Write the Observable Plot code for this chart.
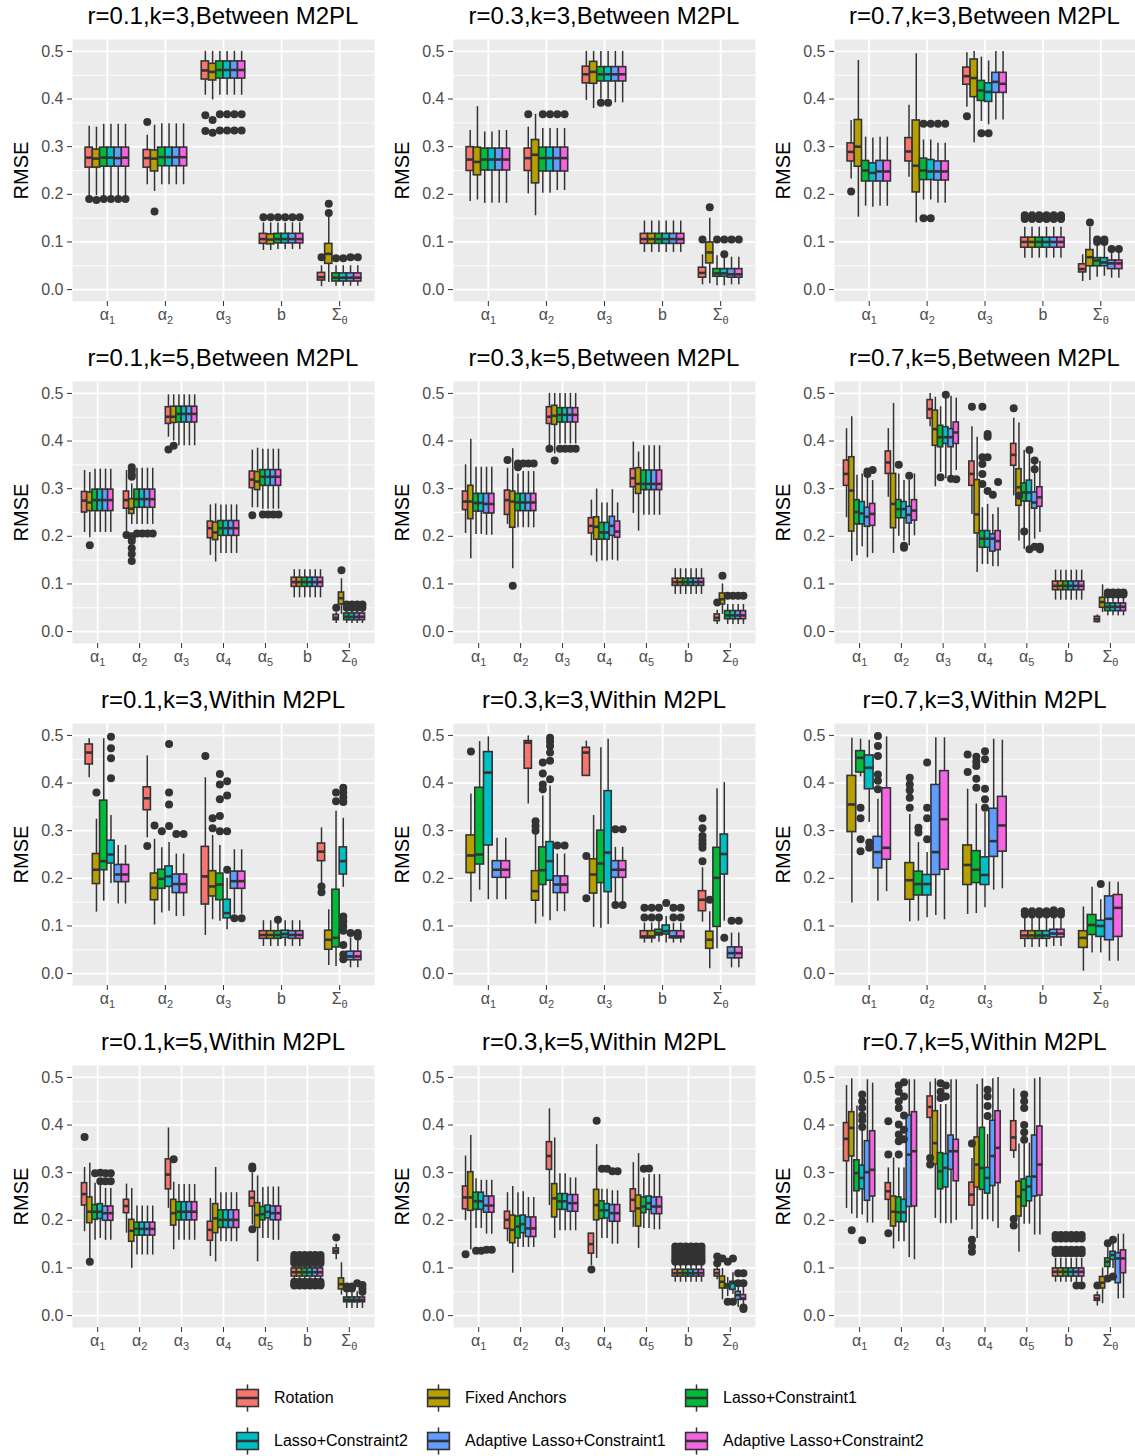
<!DOCTYPE html>
<html>
<head>
<meta charset="utf-8">
<script src="https://cdn.jsdelivr.net/npm/d3@7"></script>
<script src="https://cdn.jsdelivr.net/npm/@observablehq/plot@0.6"></script>
<style>
  body { margin: 0; background: #fff; font-family: "Liberation Sans", Arial, Helvetica, sans-serif; }
  #wrap { position: relative; width: 1135px; height: 1456px; overflow: hidden; }
  .panel { position: absolute; }
  .ptitle { height: 32px; line-height: 32px; font-size: 24px; text-align: center; color: #000; white-space: nowrap; box-sizing: border-box; }
  .panel svg { display: block; }
  .item { position: absolute; display: flex; align-items: center; font-size: 16px; color: #000; white-space: nowrap; }
  .item svg { margin-right: 12px; }
</style>
</head>
<body>
<div id="wrap"></div>
<script>
// Estimation methods and their fill colours
const methods = ["Rotation", "Fixed Anchors", "Lasso+Constraint1", "Lasso+Constraint2", "Adaptive Lasso+Constraint1", "Adaptive Lasso+Constraint2"];
const colors = ["#F8766D", "#B79F00", "#00BA38", "#00BFC4", "#619CFF", "#F564E3"];

// Parameter groups on the x axis
const paramsK3 = ["α1", "α2", "α3", "b", "Σθ"];
const paramsK5 = ["α1", "α2", "α3", "α4", "α5", "b", "Σθ"];

// RMSE axis ticks
const yTicks = [0, 0.1, 0.2, 0.3, 0.4, 0.5];
const yMinor = [0.05, 0.15, 0.25, 0.35, 0.45];

// Each row: parameter, then one box per method (null when absent):
// [lower whisker, Q1, median, Q3, upper whisker, [outliers]]
const b01k3 = [
  ["α1", [.197,.256,.277,.298,.343,[.19]], [.197,.256,.275,.294,.341,[.188]], [.197,.258,.277,.298,.347,[.19]], [.197,.258,.277,.298,.347,[.19]], [.197,.258,.276,.298,.347,[.19]], [.197,.258,.277,.298,.347,[.19]]],
  ["α2", [.22,.256,.276,.293,.324,[.352]], [.206,.248,.275,.292,.345,[.164]], [.22,.259,.278,.298,.348,[]], [.22,.259,.278,.298,.348,[]], [.22,.259,.278,.298,.348,[]], [.22,.259,.278,.298,.348,[]]],
  ["α3", [.408,.441,.46,.479,.5,[.366,.333]], [.398,.439,.457,.474,.5,[.356,.329]], [.408,.443,.461,.479,.5,[.368,.334]], [.408,.443,.461,.479,.5,[.368,.334]], [.408,.443,.461,.479,.5,[.368,.334]], [.408,.443,.461,.479,.5,[.368,.334]]],
  ["b", [.082,.096,.106,.117,.14,[.152]], [.082,.095,.105,.116,.14,[.152]], [.084,.097,.106,.117,.14,[.152]], [.084,.097,.106,.117,.14,[.152]], [.084,.097,.106,.117,.14,[.152]], [.084,.097,.106,.117,.14,[.152]]],
  ["Σθ", [.006,.019,.026,.035,.05,[.068]], [.015,.054,.075,.096,.152,[.18,.161]], [.007,.017,.025,.034,.05,[.066]], [.007,.017,.025,.034,.05,[.066]], [.007,.017,.025,.034,.05,[.068]], [.007,.017,.025,.034,.05,[.068]]]
];

const b03k3 = [
  ["α1", [.185,.249,.273,.299,.334,[]], [.188,.24,.268,.298,.384,[]], [.181,.25,.273,.296,.331,[]], [.181,.25,.273,.296,.331,[]], [.181,.25,.273,.296,.334,[]], [.181,.25,.273,.296,.334,[]]],
  ["α2", [.201,.249,.276,.296,.341,[.368]], [.155,.223,.283,.314,.368,[]], [.202,.248,.276,.298,.338,[.368]], [.202,.248,.276,.298,.338,[.368]], [.208,.248,.276,.298,.338,[.368]], [.208,.248,.276,.298,.338,[.368]]],
  ["α3", [.397,.433,.452,.468,.5,[]], [.38,.432,.457,.478,.5,[]], [.40,.437,.452,.467,.5,[.392]], [.40,.437,.452,.467,.5,[.392]], [.392,.437,.452,.467,.5,[]], [.392,.437,.452,.467,.5,[]]],
  ["b", [.078,.096,.106,.117,.144,[]], [.078,.096,.106,.117,.144,[]], [.078,.096,.106,.117,.144,[]], [.078,.096,.106,.117,.144,[]], [.078,.096,.106,.117,.144,[]], [.078,.096,.106,.117,.144,[]]],
  ["Σθ", [.01,.025,.035,.046,.073,[.105]], [.012,.055,.078,.099,.15,[.173]], [.008,.027,.034,.043,.071,[.105]], [.008,.027,.034,.043,.071,[.105,.074]], [.01,.025,.032,.043,.068,[.105]], [.01,.025,.032,.043,.068,[.105]]]
];

const b07k3 = [
  ["α1", [.232,.269,.289,.307,.355,[.206]], [.152,.258,.30,.356,.481,[]], [.175,.227,.25,.27,.32,[]], [.173,.227,.245,.265,.318,[]], [.175,.227,.248,.27,.32,[]], [.175,.227,.248,.27,.32,[]]],
  ["α2", [.236,.269,.29,.318,.387,[]], [.14,.204,.26,.355,.495,[]], [.188,.23,.25,.275,.314,[.348,.15]], [.188,.23,.248,.272,.314,[.348,.15]], [.181,.229,.248,.269,.307,[.348]], [.181,.229,.248,.269,.307,[.348]]],
  ["α3", [.383,.43,.448,.466,.497,[.364]], [.308,.404,.444,.483,.5,[]], [.353,.396,.418,.438,.488,[.328]], [.346,.394,.415,.433,.48,[.328]], [.356,.413,.436,.455,.5,[]], [.356,.413,.432,.455,.5,[]]],
  ["b", [.066,.088,.10,.109,.131,[.148,.152,.156]], [.066,.088,.10,.109,.131,[.148,.152,.156]], [.066,.088,.10,.109,.131,[.148,.152,.156]], [.066,.088,.10,.109,.131,[.148,.152,.156]], [.066,.088,.10,.109,.131,[.148,.152,.156]], [.066,.088,.10,.109,.131,[.148,.152,.156]]],
  ["Σθ", [.017,.036,.043,.053,.073,[]], [.019,.049,.068,.083,.131,[.141]], [.026,.049,.061,.066,.092,[.1,.105]], [.028,.049,.057,.066,.092,[.1,.105]], [.024,.043,.055,.061,.08,[.085]], [.024,.043,.055,.061,.08,[.085]]]
];

const b01k5 = [
  ["α1", [.208,.25,.275,.293,.338,[]], [.197,.253,.271,.292,.334,[.181]], [.208,.253,.276,.298,.341,[]], [.208,.253,.276,.298,.341,[]], [.208,.253,.276,.298,.341,[]], [.208,.253,.276,.298,.341,[]]],
  ["α2", [.21,.258,.276,.294,.338,[.203]], [.225,.247,.258,.278,.31,[.345,.338,.33,.325,.2,.197,.19,.175,.163,.148]], [.225,.26,.278,.298,.343,[.206]], [.225,.26,.278,.298,.343,[.206]], [.225,.26,.278,.298,.343,[.206]], [.225,.26,.278,.298,.343,[.206]]],
  ["α3", [.408,.436,.451,.471,.497,[.382]], [.40,.438,.451,.472,.497,[.39]], [.39,.439,.457,.472,.497,[]], [.39,.439,.457,.472,.497,[]], [.39,.439,.457,.472,.497,[]], [.39,.439,.457,.472,.497,[]]],
  ["α4", [.16,.196,.217,.231,.266,[]], [.146,.192,.208,.229,.268,[]], [.164,.201,.217,.232,.266,[]], [.164,.201,.217,.232,.266,[]], [.164,.201,.217,.232,.266,[]], [.164,.201,.217,.232,.266,[]]],
  ["α5", [.26,.301,.319,.336,.381,[.244]], [.26,.297,.315,.335,.385,[]], [.257,.306,.325,.339,.383,[.246]], [.257,.306,.325,.339,.383,[.246]], [.257,.306,.325,.339,.383,[.246]], [.257,.306,.325,.339,.383,[.246]]],
  ["b", [.071,.094,.104,.113,.13,[]], [.071,.094,.104,.113,.13,[]], [.071,.094,.104,.113,.13,[]], [.071,.094,.104,.113,.13,[]], [.071,.094,.104,.113,.13,[]], [.071,.094,.104,.113,.13,[]]],
  ["Σθ", [.017,.024,.029,.035,.04,[.05]], [.036,.057,.07,.082,.111,[.129]], [.017,.024,.031,.038,.048,[.057,.05]], [.017,.024,.031,.038,.048,[.057,.05]], [.017,.024,.031,.038,.048,[.057,.05]], [.017,.024,.031,.038,.048,[.057,.05]]]
];

const b03k5 = [
  ["α1", [.206,.255,.273,.294,.35,[]], [.153,.236,.273,.306,.404,[]], [.204,.252,.27,.289,.345,[]], [.204,.252,.27,.289,.345,[]], [.202,.248,.268,.289,.345,[]], [.202,.248,.268,.289,.345,[]]],
  ["α2", [.225,.245,.276,.296,.343,[.36]], [.132,.218,.273,.294,.384,[.096]], [.218,.253,.271,.289,.331,[.353,.345]], [.218,.253,.271,.289,.336,[.353]], [.218,.253,.271,.289,.336,[.353]], [.218,.253,.271,.289,.336,[.353]]],
  ["α3", [.387,.436,.451,.471,.5,[.384]], [.373,.434,.453,.474,.5,[.359]], [.394,.439,.455,.469,.5,[.384]], [.394,.439,.455,.469,.5,[.384]], [.394,.439,.455,.469,.5,[.384]], [.394,.439,.455,.469,.5,[.384]]],
  ["α4", [.159,.206,.222,.238,.276,[]], [.146,.193,.22,.24,.299,[]], [.148,.193,.208,.228,.27,[]], [.148,.193,.208,.228,.27,[]], [.15,.201,.222,.241,.298,[]], [.148,.197,.21,.231,.27,[]]],
  ["α5", [.248,.303,.322,.341,.398,[]], [.211,.289,.31,.343,.377,[]], [.244,.297,.31,.338,.39,[]], [.244,.297,.31,.338,.39,[]], [.244,.297,.31,.338,.39,[]], [.244,.297,.31,.338,.39,[]]],
  ["b", [.078,.096,.104,.111,.132,[]], [.078,.096,.104,.111,.132,[]], [.078,.096,.104,.111,.132,[]], [.078,.096,.104,.111,.132,[]], [.078,.096,.104,.111,.132,[]], [.078,.096,.104,.111,.132,[]]],
  ["Σθ", [.015,.022,.029,.036,.045,[.061]], [.036,.057,.068,.08,.1,[.117]], [.015,.026,.034,.043,.057,[.075]], [.015,.026,.034,.043,.057,[.075]], [.015,.026,.034,.043,.057,[.075]], [.015,.026,.034,.043,.057,[.075]]]
];

const b07k5 = [
  ["α1", [.239,.306,.331,.359,.426,[]], [.147,.21,.296,.366,.451,[]], [.159,.225,.251,.276,.328,[]], [.178,.225,.248,.272,.331,[]], [.155,.22,.241,.26,.325,[.331,.336]], [.164,.222,.247,.268,.317,[.339]]],
  ["α2", [.282,.331,.355,.378,.426,[]], [.164,.217,.268,.331,.479,[]], [.20,.238,.257,.276,.331,[.35]], [.19,.238,.257,.272,.317,[.18,.176]], [.18,.227,.245,.262,.317,[.327]], [.201,.233,.254,.276,.331,[]]],
  ["α3", [.43,.447,.467,.486,.5,[]], [.304,.39,.425,.464,.492,[]], [.334,.387,.408,.432,.472,[.324]], [.321,.394,.408,.429,.492,[.497]], [.32,.387,.408,.425,.494,[.321]], [.338,.394,.418,.439,.49,[.32]]],
  ["α4", [.246,.306,.331,.357,.43,[.472]], [.124,.206,.246,.318,.408,[]], [.141,.176,.195,.211,.26,[.472,.366,.352,.331,.31]], [.141,.176,.195,.211,.267,[.415,.409,.366,.295]], [.136,.168,.195,.204,.246,[.287]], [.136,.171,.19,.211,.26,[.314]]],
  ["α5", [.285,.348,.371,.394,.448,[.469]], [.19,.264,.303,.341,.438,[.285]], [.173,.273,.292,.311,.38,[.21]], [.173,.273,.292,.317,.373,[.381,.173]], [.194,.258,.271,.292,.352,[.359,.341,.178]], [.208,.262,.282,.303,.357,[.173,.178]]],
  ["b", [.066,.087,.096,.105,.129,[]], [.066,.087,.096,.105,.129,[]], [.066,.087,.096,.105,.129,[]], [.066,.087,.096,.105,.129,[]], [.066,.087,.096,.105,.129,[]], [.066,.087,.096,.105,.129,[]]],
  ["Σθ", [.018,.02,.026,.031,.035,[]], [.04,.05,.062,.071,.098,[]], [.033,.043,.052,.059,.075,[.082,.078]], [.033,.043,.052,.059,.075,[.082,.078]], [.033,.043,.052,.059,.075,[.082,.078]], [.033,.043,.052,.059,.075,[.082,.078]]]
];

const w01k3 = [
  ["α1", [.411,.439,.464,.481,.493,[]], [.129,.188,.218,.251,.324,[.38]], [.152,.217,.236,.363,.493,[]], [.189,.231,.25,.279,.332,[.497,.473,.452,.41]], [.146,.192,.208,.228,.269,[]], [.146,.192,.208,.228,.269,[]]],
  ["α2", [.285,.343,.368,.391,.457,[.268]], [.102,.154,.18,.21,.282,[.311]], [.127,.178,.199,.218,.264,[.299]], [.131,.182,.204,.225,.275,[.482,.38,.355,.31]], [.12,.169,.188,.208,.251,[.293]], [.12,.169,.188,.208,.251,[.293]]],
  ["α3", [.08,.145,.204,.266,.411,[.457]], [.113,.162,.183,.215,.29,[.326,.305]], [.11,.154,.187,.21,.269,[.419,.397,.366,.331,.299]], [.092,.116,.127,.155,.2,[.404,.374,.299,.218]], [.125,.178,.194,.214,.26,[.116]], [.125,.178,.194,.214,.26,[.116]]],
  ["b", [.057,.073,.081,.089,.111,[]], [.057,.073,.081,.089,.111,[]], [.057,.073,.081,.089,.105,[.113]], [.057,.075,.083,.09,.111,[]], [.057,.073,.081,.089,.111,[]], [.057,.073,.081,.089,.111,[]]],
  ["Σθ", [.187,.236,.256,.273,.306,[.183,.171]], [.017,.05,.071,.09,.134,[]], [.015,.055,.075,.176,.341,[.38,.362]], [.181,.208,.236,.265,.326,[.39,.38,.37,.36,.12,.11,.1,.09,.06,.04,.03]], [.012,.028,.036,.046,.075,[.085]], [.012,.028,.036,.046,.075,[.085,.078]]]
];

const w03k3 = [
  ["α1", null, [.15,.211,.248,.29,.377,[.466]], [.175,.229,.25,.39,.487,[]], [.155,.269,.422,.465,.497,[]], [.155,.201,.218,.236,.284,[]], [.155,.201,.218,.236,.284,[]]],
  ["α2", [.356,.43,.485,.488,.499,[]], [.104,.153,.173,.215,.292,[.32,.31,.3]], [.119,.186,.217,.265,.373,[.443,.42,.397,.387]], [.111,.195,.236,.276,.394,[.495,.487,.478,.464,.447,.408]], [.13,.169,.187,.204,.251,[.269]], [.13,.169,.187,.204,.251,[.269]]],
  ["α3", [.415,.415,.464,.474,.488,[.247,.158]], [.097,.168,.208,.24,.332,[]], [.095,.19,.231,.30,.474,[]], [.103,.171,.254,.383,.492,[]], [.136,.201,.218,.236,.265,[.303,.144]], [.136,.201,.218,.236,.265,[.303,.144]]],
  ["b", [.064,.074,.078,.089,.106,[.138,.118]], [.064,.074,.078,.089,.106,[.138,.118]], [.066,.08,.085,.092,.11,[.138,.118]], [.064,.082,.089,.101,.12,[.148]], [.064,.074,.078,.089,.106,[.138,.118]], [.064,.074,.078,.089,.106,[.138,.118]]],
  ["Σθ", [.108,.131,.155,.173,.222,[.326,.305,.289,.28,.272,.264,.236]], [.01,.052,.071,.088,.13,[.155]], [.052,.098,.201,.264,.388,[]], [.11,.208,.251,.292,.401,[.075]], [.012,.032,.043,.055,.085,[.111]], [.012,.032,.043,.055,.085,[.111]]]
];

const w07k3 = [
  ["α1", null, [.148,.297,.355,.415,.494,[]], [.413,.422,.453,.467,.492,[.348,.326,.282,.257]], [.317,.387,.432,.458,.49,[.275,.264]], [.152,.221,.255,.287,.366,[.499,.478,.457,.418,.405,.387]], [.172,.239,.264,.389,.497,[]]],
  ["α2", null, [.109,.155,.196,.232,.334,[.411,.397,.385,.369,.348]], [.11,.164,.188,.214,.275,[.306,.296]], [.117,.164,.188,.207,.254,[.443,.348,.326,.282]], [.122,.207,.255,.396,.495,[]], [.113,.218,.324,.425,.495,[]]],
  ["α3", null, [.124,.186,.228,.269,.387,[.46,.423]], [.126,.19,.218,.257,.356,[.455,.445,.436,.409,.39]], [.138,.186,.207,.244,.338,[.467,.45,.388,.366,.348]], [.175,.245,.278,.346,.492,[]], [.178,.256,.311,.371,.49,[]]],
  ["b", [.055,.073,.08,.089,.12,[.131,.124]], [.055,.073,.08,.089,.12,[.131,.124]], [.055,.073,.08,.089,.12,[.131,.124]], [.055,.073,.08,.089,.12,[.131,.124]], [.057,.076,.084,.092,.12,[.133,.124]], [.057,.076,.084,.092,.12,[.131,.124]]],
  ["Σθ", null, [.005,.054,.075,.089,.14,[]], [.043,.081,.102,.123,.181,[]], [.043,.077,.10,.111,.155,[.188]], [.026,.07,.115,.162,.192,[]], [.026,.077,.138,.165,.192,[]]]
];

const w01k5 = [
  ["α1", [.176,.231,.255,.278,.311,[.375]], [.115,.194,.218,.248,.32,[.113]], [.158,.201,.218,.232,.278,[.299]], [.162,.203,.218,.234,.28,[.30,.282]], [.158,.199,.215,.229,.267,[.299,.282]], [.158,.199,.215,.229,.267,[.299,.282]]],
  ["α2", [.173,.215,.23,.243,.276,[]], [.099,.155,.178,.201,.267,[]], [.127,.168,.182,.195,.23,[]], [.127,.168,.182,.195,.23,[]], [.127,.168,.182,.195,.23,[]], [.127,.168,.182,.195,.23,[]]],
  ["α3", [.225,.265,.296,.328,.394,[]], [.138,.189,.215,.243,.28,[.328]], [.158,.20,.218,.238,.275,[]], [.158,.20,.218,.238,.275,[]], [.158,.20,.218,.238,.275,[]], [.158,.20,.218,.238,.275,[]]],
  ["α4", [.124,.157,.18,.197,.246,[]], [.113,.173,.204,.234,.311,[]], [.155,.184,.201,.221,.258,[]], [.155,.184,.201,.221,.258,[]], [.155,.184,.201,.221,.258,[]], [.155,.184,.201,.221,.258,[]]],
  ["α5", [.19,.229,.247,.26,.299,[.313,.309,.181]], [.113,.184,.211,.236,.293,[]], [.162,.20,.213,.228,.269,[]], [.162,.204,.218,.231,.27,[]], [.158,.20,.215,.229,.27,[]], [.158,.20,.215,.229,.27,[]]],
  ["b", [.075,.082,.091,.099,.108,[.127,.121,.115,.11,.071,.066,.063]], [.075,.082,.091,.099,.108,[.127,.121,.115,.11,.071,.066,.063]], [.075,.082,.091,.099,.108,[.127,.121,.115,.11,.071,.066,.063]], [.075,.082,.091,.099,.108,[.127,.121,.115,.11,.071,.066,.063]], [.075,.082,.091,.099,.108,[.127,.121,.115,.11,.071,.066,.063]], [.075,.082,.091,.099,.108,[.127,.121,.115,.11,.071,.066,.063]]],
  ["Σθ", [.117,.13,.136,.141,.15,[.164]], [.043,.055,.066,.078,.111,[]], [.015,.028,.033,.038,.05,[.061,.057]], [.015,.028,.033,.038,.05,[.061,.057]], [.015,.028,.033,.038,.05,[.068]], [.015,.028,.033,.038,.05,[.064,.057,.05]]]
];

const w03k5 = [
  ["α1", [.199,.223,.248,.271,.335,[.129]], [.138,.22,.248,.301,.378,[]], [.183,.222,.24,.258,.287,[.136]], [.183,.222,.24,.258,.284,[.136]], [.171,.216,.231,.25,.284,[.138]], [.171,.216,.231,.25,.284,[.138]]],
  ["α2", [.155,.182,.201,.218,.258,[]], [.089,.152,.18,.21,.271,[]], [.143,.162,.187,.208,.258,[]], [.143,.173,.192,.21,.26,[]], [.143,.165,.183,.206,.248,[]], [.143,.165,.183,.206,.248,[]]],
  ["α3", [.231,.306,.335,.364,.434,[]], [.162,.206,.246,.276,.373,[]], [.178,.222,.24,.255,.298,[]], [.178,.222,.24,.255,.298,[]], [.178,.218,.236,.253,.289,[]], [.178,.218,.236,.253,.289,[]]],
  ["α4", [.105,.13,.15,.172,.172,[.097]], [.12,.20,.232,.264,.359,[.409]], [.162,.203,.221,.24,.265,[.308]], [.162,.204,.221,.234,.265,[.308]], [.15,.197,.215,.232,.262,[.303]], [.15,.197,.215,.232,.262,[.303]]],
  ["α5", [.185,.218,.243,.265,.321,[]], [.141,.187,.225,.252,.34,[]], [.183,.215,.229,.248,.289,[.308]], [.183,.222,.236,.25,.296,[.309]], [.18,.213,.229,.248,.296,[]], [.18,.213,.229,.248,.296,[]]],
  ["b", [.07,.082,.089,.096,.11,[.145,.138,.131,.124,.117,.113]], [.07,.082,.089,.096,.11,[.145,.138,.131,.124,.117,.113]], [.07,.082,.089,.096,.11,[.145,.138,.131,.124,.117,.113]], [.07,.082,.089,.096,.11,[.145,.138,.131,.124,.117,.113]], [.07,.082,.089,.096,.11,[.145,.138,.131,.124,.117,.113]], [.07,.082,.089,.096,.11,[.145,.138,.131,.124,.117,.113]]],
  ["Σθ", [.075,.082,.089,.096,.106,[.124,.11]], [.033,.057,.071,.082,.099,[.12]], [.04,.057,.063,.066,.08,[.113,.029]], [.045,.054,.068,.071,.09,[.12,.029]], [.017,.033,.043,.05,.07,[.089,.068]], [.017,.033,.036,.043,.07,[.089,.068,.017,.014]]]
];

const w07k5 = [
  ["α1", [.225,.324,.371,.404,.483,[]], [.213,.334,.394,.427,.497,[.179]], [.204,.261,.299,.326,.44,[]], [.211,.265,.289,.315,.429,[.464,.45,.436,.42,.41,.396,.158]], [.194,.241,.301,.366,.495,[]], [.194,.25,.306,.387,.488,[]]],
  ["α2", [.20,.243,.261,.278,.31,[.408,.338,.173]], [.14,.187,.218,.25,.331,[]], [.155,.196,.217,.248,.31,[.483,.47,.45,.436,.401,.38,.366,.338]], [.155,.196,.217,.243,.31,[.49,.46,.42,.39,.37]], [.122,.228,.338,.42,.495,[]], [.117,.229,.345,.427,.495,[]]],
  ["α3", [.338,.415,.438,.46,.49,[.331,.317]], [.204,.317,.362,.429,.497,[]], [.193,.265,.303,.341,.443,[.488,.47,.457]], [.193,.269,.31,.339,.443,[.483,.46]], [.193,.306,.345,.378,.495,[]], [.20,.282,.345,.369,.495,[]]],
  ["α4", [.18,.231,.254,.279,.33,[.361,.159,.145,.134]], [.162,.269,.317,.374,.485,[]], [.201,.264,.31,.394,.497,[]], [.201,.256,.289,.31,.38,[.474,.46,.44,.419]], [.197,.272,.335,.409,.497,[]], [.183,.278,.352,.429,.50,[]]],
  ["α5", [.33,.346,.374,.408,.476,[.203,.189]], [.133,.208,.25,.281,.36,[]], [.192,.229,.264,.286,.36,[.464,.45,.436,.40,.385,.369]], [.192,.24,.271,.291,.362,[]], [.169,.25,.292,.378,.497,[]], [.169,.252,.317,.397,.50,[]]],
  ["b", [.07,.082,.092,.099,.12,[.169,.162,.138,.131]], [.07,.082,.092,.099,.12,[.169,.162,.138,.131]], [.07,.082,.092,.099,.12,[.169,.162,.138,.131]], [.07,.082,.092,.099,.12,[.169,.162,.138,.131]], [.07,.082,.092,.099,.12,[.169,.162,.138,.131,.063]], [.07,.082,.092,.099,.12,[.169,.162,.138,.131,.063]]],
  ["Σθ", [.02,.031,.036,.042,.05,[.063]], [.025,.057,.069,.081,.10,[]], [.085,.102,.113,.12,.145,[.152,.078]], [.099,.117,.127,.134,.155,[.159,.082]], [.035,.068,.12,.131,.171,[]], [.036,.089,.12,.137,.171,[]]]
];

const panels = [
  {title: "r=0.1,k=3,Between M2PL", params: paramsK3, data: b01k3},
  {title: "r=0.3,k=3,Between M2PL", params: paramsK3, data: b03k3},
  {title: "r=0.7,k=3,Between M2PL", params: paramsK3, data: b07k3},
  {title: "r=0.1,k=5,Between M2PL", params: paramsK5, data: b01k5},
  {title: "r=0.3,k=5,Between M2PL", params: paramsK5, data: b03k5},
  {title: "r=0.7,k=5,Between M2PL", params: paramsK5, data: b07k5},
  {title: "r=0.1,k=3,Within M2PL", params: paramsK3, data: w01k3},
  {title: "r=0.3,k=3,Within M2PL", params: paramsK3, data: w03k3},
  {title: "r=0.7,k=3,Within M2PL", params: paramsK3, data: w07k3},
  {title: "r=0.1,k=5,Within M2PL", params: paramsK5, data: w01k5},
  {title: "r=0.3,k=5,Within M2PL", params: paramsK5, data: w03k5},
  {title: "r=0.7,k=5,Within M2PL", params: paramsK5, data: w07k5}
];

const FONT = '"Liberation Sans", Arial, Helvetica, sans-serif';
const DODGE = 0.75;        // total width of a dodged group, in category units
const INK = "#333333";     // box outlines, whiskers and outliers
const wrap = document.getElementById("wrap");

// Flatten one panel into box and outlier tables, dodging the boxes present in each group
function tables(panel) {
  const boxes = [], outliers = [];
  panel.data.forEach(([param, ...stats]) => {
    const gi = panel.params.indexOf(param);
    const present = stats.map((s, m) => ({s, m})).filter(d => d.s);
    const w = DODGE / present.length;
    present.forEach(({s, m}, j) => {
      const x1 = gi - DODGE / 2 + j * w, x2 = x1 + w, xc = (x1 + x2) / 2;
      boxes.push({method: methods[m], x1, x2, xc, lo: s[0], q1: s[1], med: s[2], q3: s[3], hi: s[4]});
      s[5].forEach(v => outliers.push({method: methods[m], xc, v}));
    });
  });
  return {boxes, outliers};
}

// Render a parameter label with a subscript (α1 → α₁, Σθ → Σ_θ)
function subscriptLabels(svg) {
  svg.querySelectorAll('g[aria-label="x-axis tick label"] text').forEach(t => {
    const lab = t.textContent;
    if (lab.length < 2) return;
    while (t.firstChild) t.removeChild(t.firstChild);
    const ns = "http://www.w3.org/2000/svg";
    const base = document.createElementNS(ns, "tspan");
    base.textContent = lab[0];
    const sub = document.createElementNS(ns, "tspan");
    sub.textContent = lab.slice(1);
    sub.setAttribute("font-size", "11px");
    sub.setAttribute("dy", "0.35em");
    t.appendChild(base);
    t.appendChild(sub);
  });
}

panels.forEach((panel, i) => {
  const col = i % 3, row = Math.floor(i / 3);
  const last = col === 2;
  const width = last ? 373 : 381;
  const mr = last ? 0 : 7;
  const n = panel.params.length;
  const {boxes, outliers} = tables(panel);

  const div = document.createElement("div");
  div.className = "panel";
  div.style.left = (col * 381) + "px";
  div.style.top = (row * 342) + "px";
  div.style.width = width + "px";

  const title = document.createElement("div");
  title.className = "ptitle";
  title.style.paddingLeft = "72px";
  title.style.paddingRight = mr + "px";
  title.textContent = panel.title;
  div.appendChild(title);

  const svg = Plot.plot({
    width, height: 310,
    marginTop: 7, marginBottom: 41, marginLeft: 72, marginRight: mr,
    style: {fontFamily: FONT, fontSize: "16px", color: "#4D4D4D", background: "transparent", overflow: "visible"},
    x: {type: "linear", domain: [-0.6, n - 0.4], axis: null},
    y: {domain: [-0.025, 0.525], axis: null},
    color: {domain: methods, range: colors},
    marks: [
      Plot.frame({fill: "#EBEBEB", stroke: "none"}),
      Plot.ruleY(yMinor, {stroke: "white", strokeWidth: 0.9}),
      Plot.ruleY(yTicks, {stroke: "white", strokeWidth: 1.8}),
      Plot.ruleX(d3.range(n), {stroke: "white", strokeWidth: 1.8}),
      Plot.ruleX(boxes, {x: "xc", y1: "lo", y2: "hi", stroke: INK, strokeWidth: 1.5}),
      Plot.rect(boxes, {x1: "x1", x2: "x2", y1: "q1", y2: "q3", fill: "method", stroke: INK, strokeWidth: 1.6}),
      Plot.link(boxes, {x1: "x1", x2: "x2", y1: "med", y2: "med", stroke: INK, strokeWidth: 2.6}),
      Plot.dot(outliers, {x: "xc", y: "v", r: 4, fill: INK, stroke: "none"}),
      Plot.axisY({ticks: yTicks, tickFormat: d3.format(".1f"), tickSize: 5, tickPadding: 4, label: null, stroke: INK}),
      Plot.axisX({ticks: d3.range(n), tickFormat: k => panel.params[k], tickSize: 5, tickPadding: 2, label: null, stroke: INK}),
      Plot.text(["RMSE"], {text: d => d, frameAnchor: "left", textAnchor: "middle", lineAnchor: "middle", dx: -51, rotate: -90, fontSize: 20, fill: "#000"})
    ]
  });
  subscriptLabels(svg);
  div.appendChild(svg);
  wrap.appendChild(div);
});

// Legend: boxplot keys in two rows of three
const legend = document.createElement("div");
legend.style.cssText = "position:absolute;left:0;top:1368px;width:1135px;height:88px;";
const keyX = [233, 424, 682];
methods.forEach((m, i) => {
  const item = document.createElement("div");
  item.className = "item";
  item.style.left = keyX[i % 3] + "px";
  item.style.top = (13 + Math.floor(i / 3) * 43) + "px";
  const key = d3.create("svg").attr("width", 29).attr("height", 34);
  key.append("line").attr("x1", 14.5).attr("x2", 14.5).attr("y1", 3.4).attr("y2", 30.6).attr("stroke", INK).attr("stroke-width", 1.5);
  key.append("rect").attr("x", 3.6).attr("y", 8.5).attr("width", 21.8).attr("height", 17).attr("fill", colors[i]).attr("stroke", INK).attr("stroke-width", 1.6);
  key.append("line").attr("x1", 3.6).attr("x2", 25.4).attr("y1", 17).attr("y2", 17).attr("stroke", INK).attr("stroke-width", 2.6);
  item.appendChild(key.node());
  const label = document.createElement("span");
  label.textContent = m;
  item.appendChild(label);
  legend.appendChild(item);
});
wrap.appendChild(legend);
</script>
</body>
</html>
